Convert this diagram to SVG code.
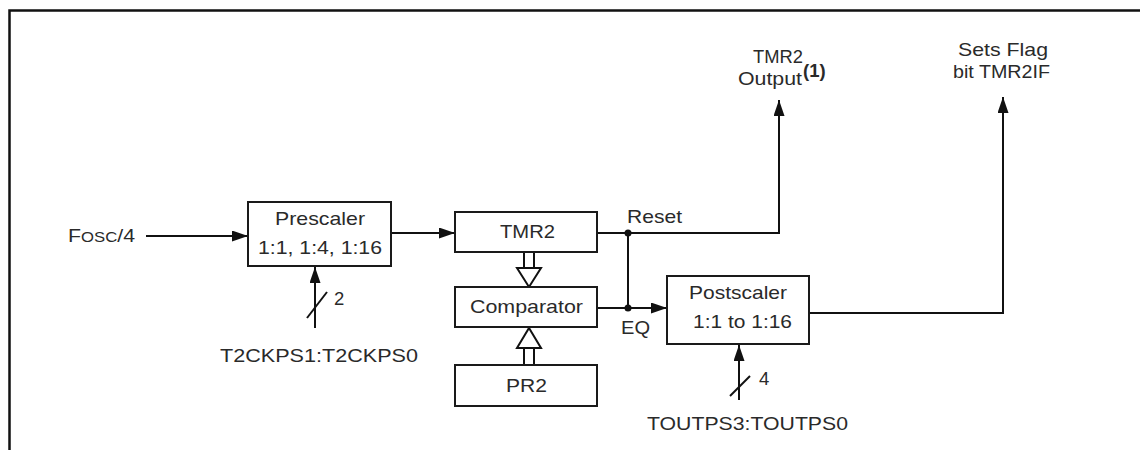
<svg xmlns="http://www.w3.org/2000/svg" width="1140" height="450" viewBox="0 0 1140 450">
<defs>
<style>
.t{font-family:"Liberation Sans",Arial,sans-serif;font-size:18.5px;fill:#2a2a2a}
.box{fill:#fff;stroke:#1a1a1a;stroke-width:2}
.w{fill:none;stroke:#111;stroke-width:2}
.hol{fill:#fff;stroke:#111;stroke-width:2;stroke-linejoin:miter}
</style>
<marker id="ah" markerUnits="userSpaceOnUse" markerWidth="16" markerHeight="11" refX="16" refY="5.5" orient="auto">
<path d="M0,0 L16,5.5 L0,11 z" fill="#111"/>
</marker>
</defs>
<rect width="1140" height="450" fill="#fff"/>
<path d="M9.5,450 V10.5 H1140" fill="none" stroke="#111" stroke-width="2.5"/>

<g id="connectors">
<line class="w" x1="146" y1="236" x2="248" y2="236" marker-end="url(#ah)"/>
<line class="w" x1="391" y1="233" x2="455" y2="233" marker-end="url(#ah)"/>
<line class="w" x1="315" y1="328" x2="315" y2="267" marker-end="url(#ah)"/>
<line class="w" x1="307" y1="318" x2="327" y2="292"/>
<polyline class="w" points="597,233 779,233 779,100" marker-end="url(#ah)"/>
<line class="w" x1="628" y1="233" x2="628" y2="308"/>
<line class="w" x1="597" y1="308" x2="667" y2="308" marker-end="url(#ah)"/>
<circle cx="628" cy="233" r="3.5" fill="#111"/>
<circle cx="628" cy="308" r="3.5" fill="#111"/>
<polyline class="w" points="809,313 1003,313 1003,97" marker-end="url(#ah)"/>
<line class="w" x1="739" y1="400" x2="739" y2="345" marker-end="url(#ah)"/>
<line class="w" x1="730" y1="396" x2="750" y2="376"/>
<line class="w" x1="524" y1="252" x2="524" y2="268"/>
<line class="w" x1="534" y1="252" x2="534" y2="268"/>
<polygon class="hol" points="517,268 541,268 529,287"/>
<line class="w" x1="524" y1="348" x2="524" y2="365"/>
<line class="w" x1="534" y1="348" x2="534" y2="365"/>
<polygon class="hol" points="517,348 541,348 529,328"/>
</g>

<g id="fosc">
<text class="t" x="68" y="242" textLength="67" lengthAdjust="spacingAndGlyphs">F<tspan font-size="14.5">OSC</tspan>/4</text>
</g>

<g id="prescaler">
<rect class="box" x="248" y="202" width="143" height="64"/>
<text class="t" x="275" y="225" textLength="90" lengthAdjust="spacingAndGlyphs">Prescaler</text>
<text class="t" x="258" y="254" textLength="124" lengthAdjust="spacingAndGlyphs">1:1, 1:4, 1:16</text>
</g>

<g id="t2ckps">
<text class="t" x="334" y="305">2</text>
<text class="t" x="220" y="362" textLength="198" lengthAdjust="spacingAndGlyphs">T2CKPS1:T2CKPS0</text>
</g>

<g id="tmr2">
<rect class="box" x="455" y="212" width="142" height="40"/>
<text class="t" x="500" y="238" textLength="55" lengthAdjust="spacingAndGlyphs">TMR2</text>
</g>

<g id="comparator">
<rect class="box" x="455" y="287" width="142" height="40"/>
<text class="t" x="470" y="313" textLength="113" lengthAdjust="spacingAndGlyphs">Comparator</text>
</g>

<g id="pr2">
<rect class="box" x="455" y="365" width="142" height="41"/>
<text class="t" x="506" y="392" textLength="41" lengthAdjust="spacingAndGlyphs">PR2</text>
</g>

<g id="labels">
<text class="t" x="627" y="223" textLength="55" lengthAdjust="spacingAndGlyphs">Reset</text>
<text class="t" x="621" y="334" textLength="29" lengthAdjust="spacingAndGlyphs">EQ</text>
</g>

<g id="postscaler">
<rect class="box" x="667" y="276" width="142" height="68"/>
<text class="t" x="689" y="299" textLength="98" lengthAdjust="spacingAndGlyphs">Postscaler</text>
<text class="t" x="693" y="328" textLength="99" lengthAdjust="spacingAndGlyphs">1:1 to 1:16</text>
</g>

<g id="toutps">
<text class="t" x="759" y="385">4</text>
<text class="t" x="647" y="430" textLength="201" lengthAdjust="spacingAndGlyphs">TOUTPS3:TOUTPS0</text>
</g>

<g id="tmr2out">
<text class="t" x="753" y="63" textLength="50" lengthAdjust="spacingAndGlyphs">TMR2</text>
<text class="t" x="738" y="85" textLength="64" lengthAdjust="spacingAndGlyphs">Output</text>
<text class="t" x="803" y="77" font-size="12.5" font-weight="bold">(1)</text>
</g>

<g id="flag">
<text class="t" x="958" y="56" textLength="90" lengthAdjust="spacingAndGlyphs">Sets Flag</text>
<text class="t" x="953" y="78" textLength="97" lengthAdjust="spacingAndGlyphs">bit TMR2IF</text>
</g>
</svg>
